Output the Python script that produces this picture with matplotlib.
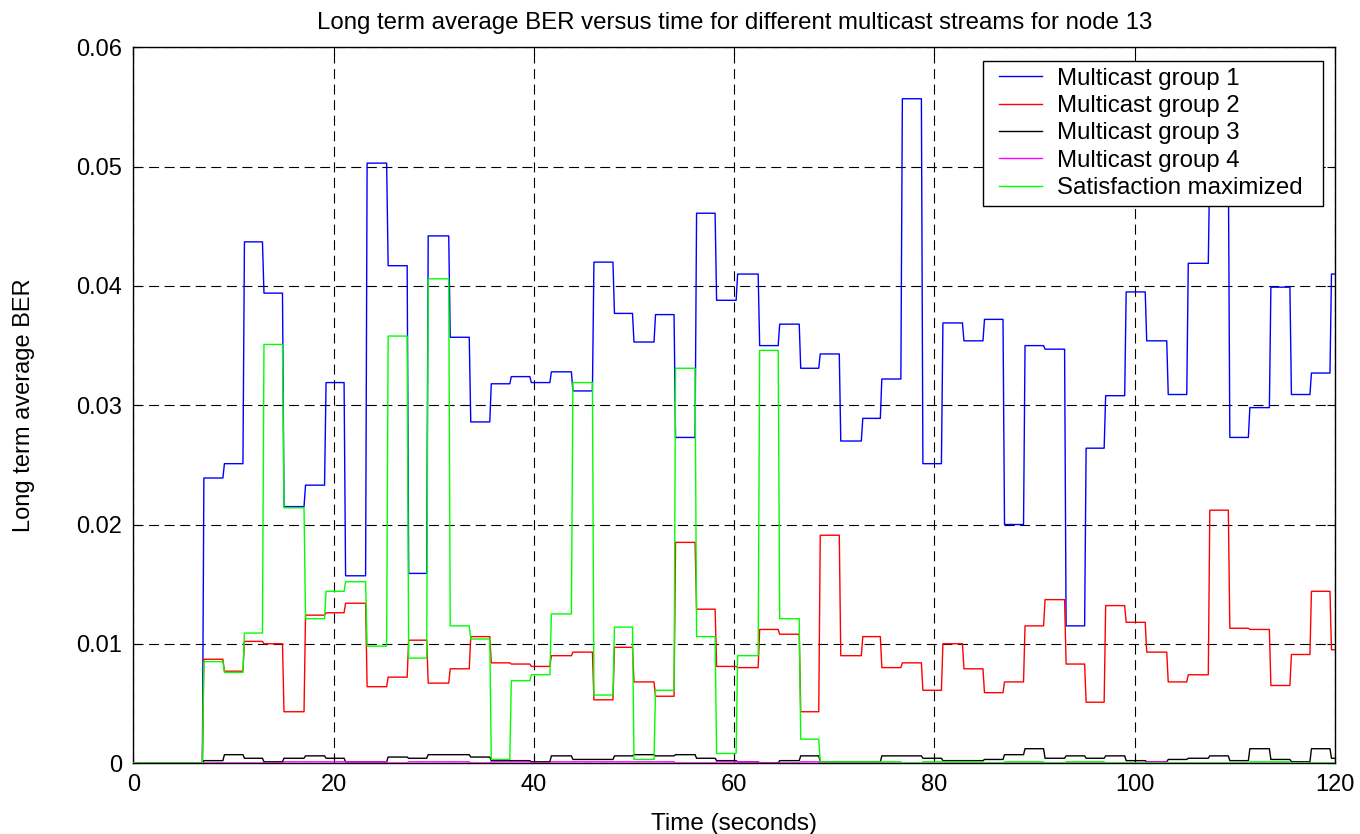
import numpy as np
import matplotlib
matplotlib.use("Agg")
import matplotlib.pyplot as plt
from matplotlib.patches import Rectangle

plt.rcParams['font.family'] = ['Liberation Sans', 'DejaVu Sans']

# Update instants (seconds) at which the long-term averages are refreshed
t_update = [6.9, 8.95, 10.95, 12.9, 14.9, 17.05, 19.1, 21.05, 23.2, 25.3,
            27.35, 29.3, 31.5, 33.55, 35.6, 37.6, 39.6, 41.6, 43.75, 45.85,
            47.9, 49.85, 52.0, 54.0, 56.1, 58.1, 60.2, 62.4, 64.4, 66.5,
            68.45, 70.5, 72.7, 74.6, 76.65, 78.7, 80.7, 82.8, 84.85, 86.85,
            88.9, 90.9, 93.0, 95.0, 96.95, 99.0, 101.05, 103.2, 105.2, 107.35,
            109.35, 111.35, 113.45, 115.5, 117.5, 119.5]

ber_group1 = [0.0239, 0.0251, 0.0437, 0.0394, 0.0215, 0.0233, 0.0319, 0.0157, 0.0503, 0.0417,
              0.0159, 0.0442, 0.0357, 0.0286, 0.0318, 0.0324, 0.0319, 0.0328, 0.0312, 0.0420,
              0.0377, 0.0353, 0.0376, 0.0273, 0.0461, 0.0388, 0.0410, 0.0350, 0.0368, 0.0331,
              0.0343, 0.0270, 0.0289, 0.0322, 0.0557, 0.0251, 0.0369, 0.0354, 0.0372, 0.0200,
              0.0350, 0.0347, 0.0115, 0.0264, 0.0308, 0.0395, 0.0354, 0.0309, 0.0419, 0.0505,
              0.0273, 0.0298, 0.0399, 0.0309, 0.0327, 0.0410]

ber_group2 = [0.0087, 0.0077, 0.0102, 0.0100, 0.0043, 0.0124, 0.0126, 0.0134, 0.0064, 0.0072,
              0.0103, 0.0067, 0.0079, 0.0106, 0.0084, 0.0083, 0.0081, 0.0090, 0.0093, 0.0053,
              0.0097, 0.0068, 0.0056, 0.0185, 0.0129, 0.0081, 0.0080, 0.0112, 0.0108, 0.0043,
              0.0191, 0.0090, 0.0106, 0.0080, 0.0084, 0.0061, 0.0100, 0.0079, 0.0059, 0.0068,
              0.0115, 0.0137, 0.0083, 0.0051, 0.0132, 0.0118, 0.0093, 0.0068, 0.0074, 0.0212,
              0.0113, 0.0112, 0.0065, 0.0091, 0.0144, 0.0095]

ber_group3 = [0.0002, 0.0007, 0.0004, 0.0001, 0.0004, 0.0006, 0.0004, 0.0001, 0.0001, 0.0005,
              0.0004, 0.0007, 0.0007, 0.0005, 0.0002, 0.0002, 0.0001, 0.0006, 0.0003, 0.0003,
              0.0006, 0.0007, 0.0006, 0.0007, 0.0004, 0.0002, 0.0001, 0.0000, 0.0002, 0.0006,
              0.0001, 0.0001, 0.0001, 0.0006, 0.0006, 0.0004, 0.0002, 0.0002, 0.0003, 0.0007,
              0.0012, 0.0004, 0.0006, 0.0004, 0.0006, 0.0002, 0.0001, 0.0003, 0.0004, 0.0006,
              0.0002, 0.0012, 0.0003, 0.0001, 0.0012, 0.0004]

ber_group4 = [0.0, 0.0, 0.0, 0.0, 0.0001, 0.0001, 0.0001, 0.0001, 0.0001, 0.0,
              0.0001, 0.0001, 0.0001, 0.0, 0.0001, 0.0001, 0.0, 0.0001, 0.0001, 0.0001,
              0.0001, 0.0001, 0.0001, 0.0, 0.0, 0.0001, 0.0001, 0.0, 0.0, 0.0001,
              0.0, 0.0, 0.0, 0.0, 0.0, 0.0, 0.0, 0.0, 0.0, 0.0,
              0.0, 0.0, 0.0, 0.0, 0.0, 0.0, 0.0001, 0.0, 0.0, 0.0,
              0.0, 0.0, 0.0, 0.0, 0.0, 0.0]

ber_satisfaction = [0.0085, 0.0076, 0.0109, 0.0351, 0.0214, 0.0121, 0.0144, 0.0152, 0.0098, 0.0358,
                    0.0088, 0.0406, 0.0115, 0.0104, 0.0003, 0.0069, 0.0074, 0.0125, 0.0319, 0.0057,
                    0.0114, 0.0003, 0.0061, 0.0331, 0.0106, 0.0008, 0.0090, 0.0346, 0.0121, 0.0020,
                    0.0001, 0.0001, 0.0001, 0.0001, 0.0, 0.0001, 0.0001, 0.0001, 0.0, 0.0001,
                    0.0001, 0.0, 0.0001, 0.0001, 0.0, 0.0, 0.0, 0.0, 0.0, 0.0,
                    0.0, 0.0001, 0.0001, 0.0, 0.0, 0.0]

series_labels = ['Multicast group 1', 'Multicast group 2', 'Multicast group 3',
                 'Multicast group 4', 'Satisfaction maximized']
series_colors = ['#0000ff', '#ff0000', '#000000', '#ff00ff', '#00ff00']

x_ticks = [0, 20, 40, 60, 80, 100, 120]
y_ticks = [0, 0.01, 0.02, 0.03, 0.04, 0.05, 0.06]


def held_trace(times, values, t_end=120.0, ramp=0.15):
    """Zero until the first update, then each value is held until the next one."""
    xs, ys = [0.0], [0.0]
    prev = 0.0
    for t, v in zip(times, values):
        xs += [t, t + ramp]
        ys += [prev, v]
        prev = v
    xs.append(t_end)
    ys.append(prev)
    return np.array(xs), np.array(ys)


fig = plt.figure(figsize=(13.6, 8.34), dpi=100)
ax = fig.add_axes([0.098, 0.0851, 0.8836, 0.858])

all_series = [ber_group1, ber_group2, ber_group3, ber_group4, ber_satisfaction]
for vals, lab, col in zip(all_series, series_labels, series_colors):
    xs, ys = held_trace(t_update, vals)
    ax.plot(xs, ys, color=col, lw=1.0, label=lab, zorder=3)

ax.set_xlim(0, 120)
ax.set_ylim(0, 0.06)
ax.set_xticks(x_ticks)
ax.set_xticklabels([str(v) for v in x_ticks])
ax.set_yticks(y_ticks)
ax.set_yticklabels(['0'] + ['%.2f' % v for v in y_ticks[1:]])

ax.grid(True, color='black', linestyle=(0, (9, 5)), linewidth=0.8, zorder=1)
ax.set_axisbelow(True)
ax.tick_params(direction='in', length=6, width=0.8, top=True, right=True,
               labelsize=17, pad=8)
for sp in ax.spines.values():
    sp.set_linewidth(1.0)
    sp.set_color('black')

ax.set_title('Long term average BER versus time for different multicast streams for node 13',
             fontsize=17.3, pad=13)
ax.set_xlabel('Time (seconds)', fontsize=17.5, labelpad=12)
ax.set_ylabel('Long term average BER', fontsize=17, labelpad=30)

leg = ax.legend(loc='upper right', bbox_to_anchor=(0.979, 0.9815), fontsize=17.3,
                frameon=False, handlelength=1.78, handletextpad=0.63,
                labelspacing=0.22, borderpad=0.3, borderaxespad=0.0)
leg.set_zorder(5)

# Legend frame: white box a little wider than the packed entries
fig.canvas.draw()
bb = leg.get_window_extent(fig.canvas.get_renderer())
to_axes = ax.transAxes.inverted()
fx0, fy0 = to_axes.transform((bb.x0 - 9, bb.y0))
fx1, fy1 = to_axes.transform((bb.x1 + 13, bb.y1))
ax.add_patch(Rectangle((fx0, fy0), fx1 - fx0, fy1 - fy0, transform=ax.transAxes,
                       facecolor='white', edgecolor='black', lw=1.0,
                       zorder=4.5, clip_on=False))

fig.savefig('out.png', dpi=100)
